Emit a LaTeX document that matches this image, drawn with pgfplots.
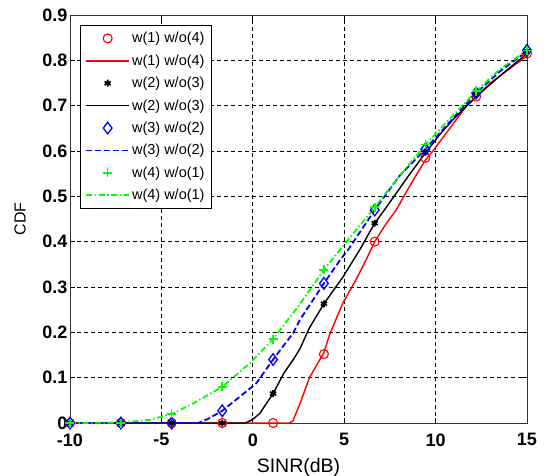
\documentclass[border=0pt]{standalone}
\usepackage{fontspec}
\setmainfont{Liberation Sans}[BoldFont={Liberation Sans Bold}]
\usepackage{pgfplots}
\pgfplotsset{compat=1.18}

\begin{document}
\begin{tikzpicture}
\begin{axis}[
  scale only axis,
  width=457pt, height=408pt,
  xmin=-10, xmax=15, ymin=0, ymax=0.9,
  xtick={-10,-5,0,5,10,15},
  xticklabels={-10,-5,0,5,10,15},
  ytick={0,0.1,0.2,0.3,0.4,0.5,0.6,0.7,0.8,0.9},
  yticklabels={0,0.1,0.2,0.3,0.4,0.5,0.6,0.7,0.8,0.9},
  tick align=inside,
  major tick length=5pt,
  tick style={black, line width=0.6pt},
  axis line style={black!80, line width=0.8pt},
  grid=major,
  major grid style={black, dash pattern=on 4pt off 3pt, line width=0.6pt},
  xticklabel style={font=\fontsize{18}{20}\selectfont\bfseries, yshift=-7pt},
  yticklabel style={font=\fontsize{18}{20}\selectfont\bfseries, xshift=1pt},
  xlabel={SINR(dB)}, ylabel={CDF},
  xlabel style={font=\fontsize{19.5}{22}\selectfont, at={(axis description cs:0.5,-0.108)}, anchor=center},
  ylabel style={font=\fontsize{16}{20}\selectfont, at={(axis description cs:-0.109,0.5)}, anchor=center},
  legend style={at={(0.022,0.975)}, anchor=north west,
    font=\fontsize{14.5}{16}\selectfont, row sep=6.4pt, inner ysep=5pt, inner xsep=5pt},
  legend cell align={left},
]
% w(1) w/o(4)
\addplot[red, only marks, mark=o, mark size=4.5pt, line width=1.1pt, forget plot]
  coordinates {(-10,0)(-7.22,0)(-4.44,0)(-1.67,0)(1.11,0)(3.89,0.152)(6.67,0.40)(9.44,0.585)(12.22,0.72)(15,0.815)};
\addplot[red, line width=1.4pt, mark=none, forget plot]
  coordinates {(-10,0)(2.0,0)(2.2,0.005)(2.6,0.045)(3.1,0.10)(3.5,0.128)(3.89,0.155)(4.2,0.195)(4.93,0.265)(5.67,0.318)(6.2,0.36)(6.67,0.40)(7.3,0.44)(7.85,0.47)(8.4,0.51)(8.94,0.547)(9.44,0.58)(9.85,0.60)(10.5,0.635)(11.13,0.669)(11.7,0.70)(12.22,0.72)(13,0.75)(14,0.78)(15,0.81)};
% w(2) w/o(3)
\addplot[black, only marks, mark=asterisk, mark size=3.5pt, line width=1.8pt, forget plot]
  coordinates {(-10,0)(-7.22,0)(-4.44,0)(-1.67,0)(1.11,0.065)(3.89,0.263)(6.67,0.441)(9.44,0.598)(12.22,0.725)(15,0.82)};
\addplot[black, line width=1.4pt, mark=none, forget plot]
  coordinates {(-10,0)(-0.4,0)(0,0.008)(0.38,0.021)(1.11,0.065)(1.7,0.11)(2.2,0.139)(2.57,0.163)(3.1,0.21)(3.89,0.263)(4.4,0.292)(4.93,0.322)(5.85,0.382)(6.67,0.441)(7.2,0.47)(7.85,0.507)(8.6,0.55)(9.3,0.588)(9.44,0.595)(10.2,0.635)(10.95,0.669)(12.22,0.72)(13.5,0.765)(15,0.815)};
% w(3) w/o(2)
\addplot[blue, only marks, mark=diamond, mark size=5.8pt, line width=1.3pt, forget plot]
  coordinates {(-10,0)(-7.22,0)(-4.44,0)(-1.67,0.027)(1.11,0.14)(3.89,0.308)(6.67,0.47)(9.44,0.604)(12.22,0.728)(15,0.822)};
\addplot[blue, line width=1.8pt, dash pattern=on 6pt off 3pt, mark=none, forget plot]
  coordinates {(-10,0)(-3,0)(-2.5,0.008)(-1.67,0.027)(-0.71,0.058)(0.2,0.088)(1.11,0.14)(2.2,0.198)(2.57,0.227)(3.89,0.308)(4.75,0.358)(5.3,0.387)(6.67,0.47)(8.0,0.544)(9.44,0.604)(10.8,0.665)(12.22,0.728)(13.5,0.775)(15,0.82)};
% w(4) w/o(1)
\addplot[green, only marks, mark=+, mark size=4.5pt, line width=1.6pt, forget plot]
  coordinates {(-10,0)(-7.22,0)(-4.44,0.02)(-1.67,0.08)(1.11,0.185)(3.89,0.338)(6.67,0.476)(9.44,0.614)(12.22,0.732)(15,0.822)};
\addplot[green, line width=1.8pt, dash pattern=on 6pt off 2.5pt on 1.5pt off 2.5pt, mark=none, forget plot]
  coordinates {(-10,0)(-7.22,0.001)(-5.63,0.007)(-4.44,0.02)(-3.26,0.043)(-1.67,0.08)(-0.16,0.132)(1.11,0.185)(2.57,0.262)(3.89,0.338)(4.93,0.39)(6.67,0.476)(7.85,0.536)(9.44,0.614)(10.8,0.672)(12.22,0.732)(13.5,0.78)(15,0.822)};
% legend
\addlegendimage{legend image code/.code={\draw[red, line width=1.1pt] plot[only marks, mark=o, mark size=4.5pt] coordinates {(21.5pt,0pt)};}}
\addlegendentry{w(1) w/o(4)}
\addlegendimage{legend image code/.code={\draw[red, line width=1.4pt] (0pt,0pt) -- (43pt,0pt);}}
\addlegendentry{w(1) w/o(4)}
\addlegendimage{legend image code/.code={\draw[black, line width=1.8pt] plot[only marks, mark=asterisk, mark size=3.5pt] coordinates {(21.5pt,0pt)};}}
\addlegendentry{w(2) w/o(3)}
\addlegendimage{legend image code/.code={\draw[black, line width=1.4pt] (0pt,0pt) -- (43pt,0pt);}}
\addlegendentry{w(2) w/o(3)}
\addlegendimage{legend image code/.code={\draw[blue, line width=1.3pt] plot[only marks, mark=diamond, mark size=5.8pt] coordinates {(21.5pt,0pt)};}}
\addlegendentry{w(3) w/o(2)}
\addlegendimage{legend image code/.code={\draw[blue, line width=1.8pt, dash pattern=on 6pt off 3pt] (0pt,0pt) -- (43pt,0pt);}}
\addlegendentry{w(3) w/o(2)}
\addlegendimage{legend image code/.code={\draw[green, line width=1.6pt] plot[only marks, mark=+, mark size=4.5pt] coordinates {(21.5pt,0pt)};}}
\addlegendentry{w(4) w/o(1)}
\addlegendimage{legend image code/.code={\draw[green, line width=1.8pt, dash pattern=on 6pt off 2.5pt on 1.5pt off 2.5pt] (0pt,0pt) -- (43pt,0pt);}}
\addlegendentry{w(4) w/o(1)}
\end{axis}
\pgfresetboundingbox
\path (-70pt,-52pt) rectangle (476pt,423pt);
\end{tikzpicture}
\end{document}
